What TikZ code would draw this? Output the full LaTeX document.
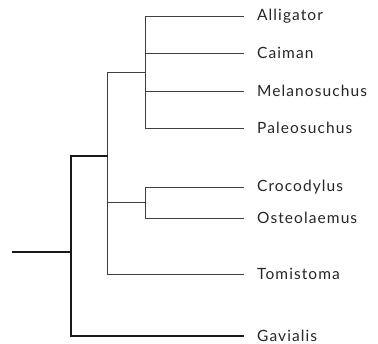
\documentclass[tikz,border=0pt]{standalone}
\usepackage{fontspec}
\setmainfont{Lato}[LetterSpace=7]
\begin{document}
\begin{tikzpicture}[x=1pt,y=-1pt,
  thin branch/.style={draw=black!75,line width=0.9pt},
  thick branch/.style={draw=black!90,line width=2.2pt},
  leaf/.style={anchor=west,inner sep=0pt,font=\fontsize{15.5}{18}\selectfont,text=black!85}]
\useasboundingbox (0,0) rectangle (378,344);
% leaves
\node[leaf] (all) at (257,16) {Alligator};
\node[leaf] (cai) at (257,53) {Caiman};
\node[leaf] (mel) at (257,91) {Melanosuchus};
\node[leaf] (pal) at (257,128) {Paleosuchus};
\node[leaf] (cro) at (257,187) {Crocodylus};
\node[leaf] (ost) at (257,218) {Osteolaemus};
\node[leaf] (tom) at (257,274) {Tomistoma};
\node[leaf] (gav) at (257,336) {Gavialis};
% internal nodes
\coordinate (root) at (12,252);
\coordinate (n0) at (71,252);
\coordinate (n1) at (107,156);
\coordinate (n2) at (145,72);
\coordinate (n3) at (145,202);
% alligatorids
\draw[thin branch] (n2 |- all.west) -- ([xshift=-13pt]all.west);
\draw[thin branch] (n2 |- cai.west) -- ([xshift=-13pt]cai.west);
\draw[thin branch] (n2 |- mel.west) -- ([xshift=-13pt]mel.west);
\draw[thin branch] (n2 |- pal.west) -- ([xshift=-13pt]pal.west);
\draw[thin branch] (n2 |- all.west) -- (n2 |- pal.west);
\draw[thin branch] (n1 |- n2) -- (n2);
% crocodylids
\draw[thin branch] (n3 |- cro.west) -- ([xshift=-13pt]cro.west);
\draw[thin branch] (n3 |- ost.west) -- ([xshift=-13pt]ost.west);
\draw[thin branch] (n3 |- cro.west) -- (n3 |- ost.west);
\draw[thin branch] (n1 |- n3) -- (n3);
% tomistoma
\draw[thin branch] (n1 |- tom.west) -- ([xshift=-13pt]tom.west);
\draw[thin branch] (n1 |- n2) -- (n1 |- tom.west);
% thick part
\draw[thick branch] (root) -- (n0);
\draw[thick branch,line cap=rect] (n0 |- n1) -- (n1);
\draw[thick branch] (n0 |- n1) -- (n0 |- gav.west) -- ([xshift=-13pt]gav.west);
\end{tikzpicture}
\end{document}
